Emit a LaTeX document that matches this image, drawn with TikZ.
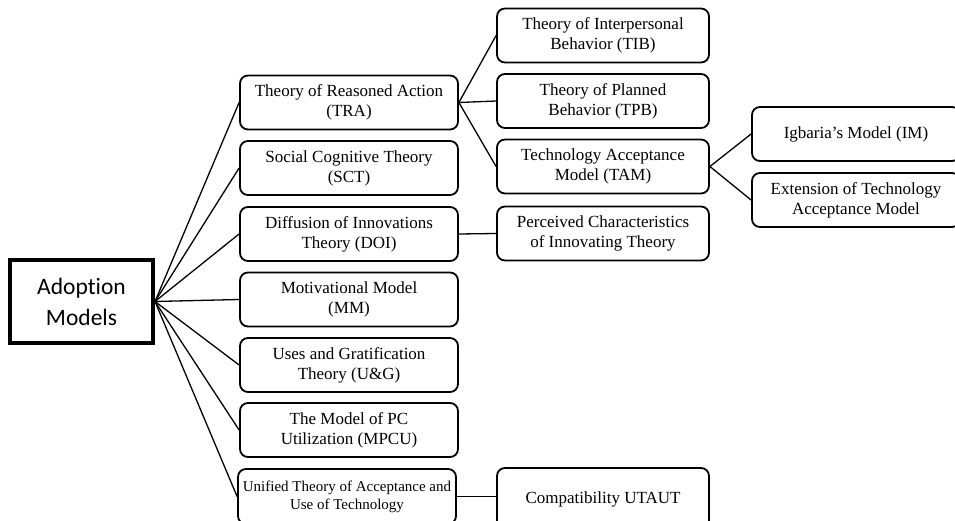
\documentclass[tikz,border=0pt]{standalone}
\usepackage{fontspec}
\setmainfont{Liberation Serif}
\newfontfamily\rootfont[Ligatures={NoCommon}]{Carlito}
\begin{document}
\begin{tikzpicture}[x=1pt,y=-1pt,
  box/.style={draw, line width=1.8pt, rounded corners=8pt, minimum width=218pt,
    minimum height=54pt, align=center, inner sep=0pt, font=\fontsize{17}{20}\selectfont},
  ltwo/.style={box, minimum width=212pt},
  lthree/.style={box, minimum width=208pt},
  rootbox/.style={draw, line width=4pt, minimum width=143pt, minimum height=83pt,
    align=center, inner sep=0pt, font=\rootfont\fontsize{23.5}{31}\selectfont},
  conn/.style={line width=1.3pt}]
\useasboundingbox (0,0) rectangle (955,521);
\clip (0,0) rectangle (955,521);

\node[rootbox] (root) at (81.5,301.5) {Adoption\\Models};

\node[box] (tra)  at (349,102.5) {Theory of Reasoned Action\\(TRA)};
\node[box] (sct)  at (349,168)   {Social Cognitive Theory\\(SCT)};
\node[box] (doi)  at (349,234)   {Diffusion of Innovations\\Theory (DOI)};
\node[box] (mm)   at (349,299.5) {Motivational Model\\(MM)};
\node[box] (ug)   at (349,365)   {Uses and Gratification\\Theory (U\&G)};
\node[box] (mpcu) at (349,430)   {The Model of PC\\Utilization (MPCU)};
\node[box, minimum height=55pt, font=\fontsize{15}{18}\selectfont] (utaut) at (347,496.5)
  {Unified Theory of Acceptance and\\Use of Technology};

\node[ltwo] (tib)  at (603,35.5)  {Theory of Interpersonal\\Behavior (TIB)};
\node[ltwo] (tpb)  at (603,101)   {Theory of Planned\\Behavior (TPB)};
\node[ltwo] (tam)  at (603,166.5) {Technology Acceptance\\Model (TAM)};
\node[ltwo] (pci)  at (603,233.5) {Perceived Characteristics\\of Innovating Theory};
\node[ltwo, minimum height=62pt] (comp) at (603,499) {Compatibility UTAUT};

\node[lthree] (im)  at (856,134) {Igbaria's Model (IM)};
\node[lthree] (ext) at (856,200) {Extension of Technology\\Acceptance Model};

\foreach \t in {tra,sct,doi,mm,ug,mpcu,utaut}
  \draw[conn] (root.east) -- (\t.west);
\foreach \t in {tib,tpb,tam}
  \draw[conn] (tra.east) -- (\t.west);
\draw[conn] (doi.east) -- (pci.west);
\draw[conn] (utaut.east) -- (utaut.east -| comp.west);
\draw[conn] (tam.east) -- (im.west);
\draw[conn] (tam.east) -- (ext.west);
\end{tikzpicture}
\end{document}
